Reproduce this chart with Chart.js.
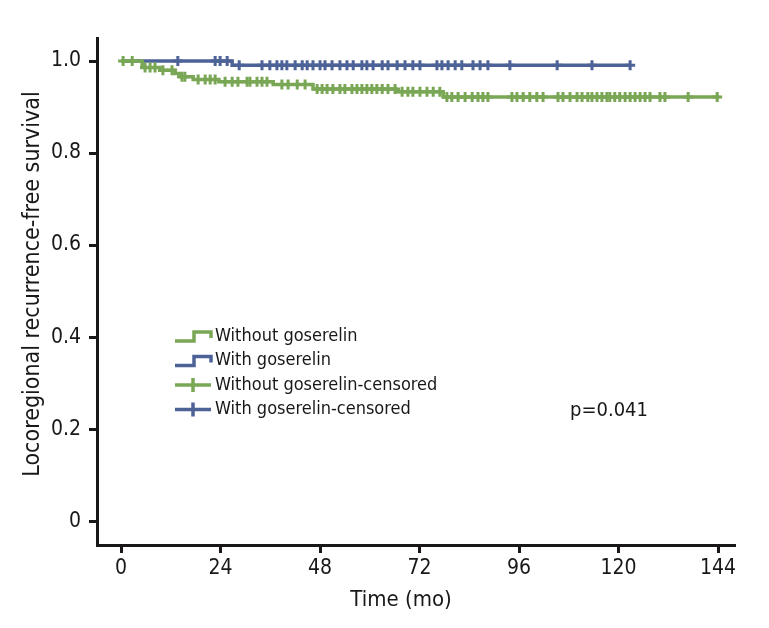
<!DOCTYPE html>
<html>
<head>
<meta charset="utf-8">
<script src="https://cdn.jsdelivr.net/npm/chart.js@4/dist/chart.umd.min.js"></script>
<style>
  html, body { margin: 0; padding: 0; background: #fff; }
  #wrap { width: 769px; height: 628px; position: relative; }
</style>
</head>
<body>
<div id="wrap"><canvas id="kmChart" width="769" height="628"></canvas></div>
<script>
// Axes
var timeTicks = [0, 24, 48, 72, 96, 120, 144];
var survTicks = [0, 0.2, 0.4, 0.6, 0.8, 1.0];
var survTickLabels = ['0', '0.2', '0.4', '0.6', '0.8', '1.0'];

// Without goserelin : step curve (time in months, survival)
var withoutTimes = [0, 5.1, 9.4, 13.0, 14.2, 17.4, 23.6, 36.7, 46.3, 66.3, 77.7, 144.3];
var withoutSurv = [1.0, 0.986, 0.980, 0.973, 0.966, 0.960, 0.955, 0.949, 0.939, 0.933, 0.922, 0.922];
// With goserelin : step curve
var withTimes = [0, 26.8, 122.8];
var withSurv = [1.0, 0.991, 0.991];

// Censored times
var withoutCensored = [0.5, 2.7, 5.8, 7.0, 8.2, 10.1, 12.3, 14.7, 15.4, 18.6, 20.3, 21.5, 22.7, 25.1, 26.8,
    28.2, 30.4, 31.1, 32.8, 34.0, 35.2, 38.8, 40.3, 42.5, 44.4, 47.3, 48.5, 49.7, 51.1, 52.8, 54.0, 55.7,
    56.9, 58.1, 59.3, 60.5, 61.7, 63.0, 64.4, 66.1, 67.8, 69.2, 70.4, 72.1, 73.8, 75.3, 76.9, 78.6, 79.8,
    81.3, 83.0, 84.7, 86.1, 87.3, 88.5, 94.3, 95.5, 97.0, 98.6, 100.3, 101.8, 105.4, 106.6, 108.3, 110.0,
    111.2, 112.6, 113.6, 114.8, 116.0, 117.2, 117.9, 119.1, 120.3, 121.6, 122.8, 124.0, 125.2, 126.4,
    127.6, 130.0, 131.2, 136.8, 143.8];
var withCensored = [13.7, 22.7, 23.9, 25.6, 28.5, 34.0, 35.9, 37.6, 38.8, 40.0, 42.0, 43.7, 44.9, 46.3,
    48.0, 49.2, 50.9, 52.8, 54.5, 56.0, 58.1, 59.3, 60.8, 63.0, 64.4, 66.6, 68.5, 70.4, 72.1, 76.2, 77.4,
    78.9, 80.6, 82.2, 84.9, 86.6, 88.5, 93.8, 105.2, 113.6, 122.8];

var pValueText = 'p=0.041';
var xTitle = 'Time (mo)';
var yTitle = 'Locoregional recurrence-free survival';

var GREEN = '#79a755';
var BLUE = '#4d6398';
var INK = '#1a1718';
var FONT = '"Liberation Sans Narrow", "DejaVu Sans Condensed", "Roboto", sans-serif';

// valeur de la courbe à un temps donné
function survAt(times, surv, t) {
    var v = surv[0];
    for (var i = 0; i < times.length; i++) {
        if (times[i] <= t) v = surv[i];
    }
    return v;
}

function toPoints(times, surv) {
    return times.map(function (t, i) { return { x: t, y: surv[i] }; });
}

function censorPoints(list, times, surv) {
    return list.map(function (t) { return { x: t, y: survAt(times, surv, t) }; });
}

// titres, légende et p-value dessinés sur le canvas
var annotations = {
    id: 'annotations',
    afterDraw: function (chart) {
        var c = chart.ctx;
        c.save();
        c.fillStyle = INK;
        c.textBaseline = 'middle';

        // titre axe x
        c.font = '22px ' + FONT;
        c.textAlign = 'center';
        c.fillText(xTitle, 401, 600);

        // titre axe y
        c.save();
        c.translate(33, 284);
        c.rotate(-Math.PI / 2);
        c.font = '23px ' + FONT;
        c.fillText(yTitle, 0, 0);
        c.restore();

        // légende
        var items = [
            { label: 'Without goserelin', color: GREEN, step: true },
            { label: 'With goserelin', color: BLUE, step: true },
            { label: 'Without goserelin-censored', color: GREEN, step: false },
            { label: 'With goserelin-censored', color: BLUE, step: false }
        ];
        c.font = '18px ' + FONT;
        c.textAlign = 'left';
        items.forEach(function (it, i) {
            var y = 336 + i * 24.5;
            c.strokeStyle = it.color;
            c.lineWidth = 3.5;
            c.beginPath();
            if (it.step) {
                c.moveTo(175, y + 5);
                c.lineTo(194, y + 5);
                c.lineTo(194, y - 4);
                c.lineTo(211, y - 4);
                c.lineTo(211, y + 2);
            } else {
                c.moveTo(175, y);
                c.lineTo(211, y);
                c.moveTo(193, y - 7);
                c.lineTo(193, y + 7);
            }
            c.stroke();
            c.fillStyle = INK;
            c.fillText(it.label, 215, y);
        });

        // p-value
        c.font = '20px ' + FONT;
        c.fillText(pValueText, 570, 411);
        c.restore();
    }
};

var ctx = document.getElementById('kmChart').getContext('2d');
var chart = new Chart(ctx, {
    type: 'scatter',
    data: {
        datasets: [
            {
                label: 'Without goserelin',
                data: toPoints(withoutTimes, withoutSurv),
                showLine: true,
                stepped: true,
                borderColor: GREEN,
                borderWidth: 3.5,
                pointRadius: 0
            },
            {
                label: 'Without goserelin-censored',
                data: censorPoints(withoutCensored, withoutTimes, withoutSurv),
                showLine: false,
                pointStyle: 'cross',
                pointRadius: 5,
                borderColor: GREEN,
                borderWidth: 3
            },
            {
                label: 'With goserelin',
                data: toPoints(withTimes, withSurv),
                showLine: true,
                stepped: true,
                borderColor: BLUE,
                borderWidth: 3.5,
                pointRadius: 0
            },
            {
                label: 'With goserelin-censored',
                data: censorPoints(withCensored, withTimes, withSurv),
                showLine: false,
                pointStyle: 'cross',
                pointRadius: 5,
                borderColor: BLUE,
                borderWidth: 3
            }
        ]
    },
    options: {
        responsive: false,
        animation: false,
        layout: { padding: { top: 38, right: 34, left: 0, bottom: 0 } },
        plugins: {
            legend: { display: false },
            tooltip: { enabled: false }
        },
        scales: {
            x: {
                type: 'linear',
                min: -5.8,
                max: 148.1,
                afterFit: function (s) { s.height = 83; },
                afterBuildTicks: function (s) {
                    s.ticks = timeTicks.map(function (v) { return { value: v }; });
                },
                ticks: {
                    color: INK,
                    font: { family: FONT, size: 21 },
                    padding: 3,
                    maxRotation: 0,
                    callback: function (v) { return String(v); }
                },
                grid: {
                    drawOnChartArea: false,
                    drawTicks: true,
                    tickLength: 8,
                    tickWidth: 3,
                    tickColor: INK
                },
                border: { color: INK, width: 3 }
            },
            y: {
                type: 'linear',
                min: -0.052,
                max: 1.05,
                afterFit: function (s) { s.width = 97; },
                afterBuildTicks: function (s) {
                    s.ticks = survTicks.map(function (v) { return { value: v }; });
                },
                ticks: {
                    color: INK,
                    font: { family: FONT, size: 21 },
                    padding: 8,
                    callback: function (v) {
                        var i = survTicks.indexOf(v);
                        return i >= 0 ? survTickLabels[i] : '';
                    }
                },
                grid: {
                    drawOnChartArea: false,
                    drawTicks: true,
                    tickLength: 8,
                    tickWidth: 3,
                    tickColor: INK
                },
                border: { color: INK, width: 3 }
            }
        }
    },
    plugins: [annotations]
});
</script>
</body>
</html>
